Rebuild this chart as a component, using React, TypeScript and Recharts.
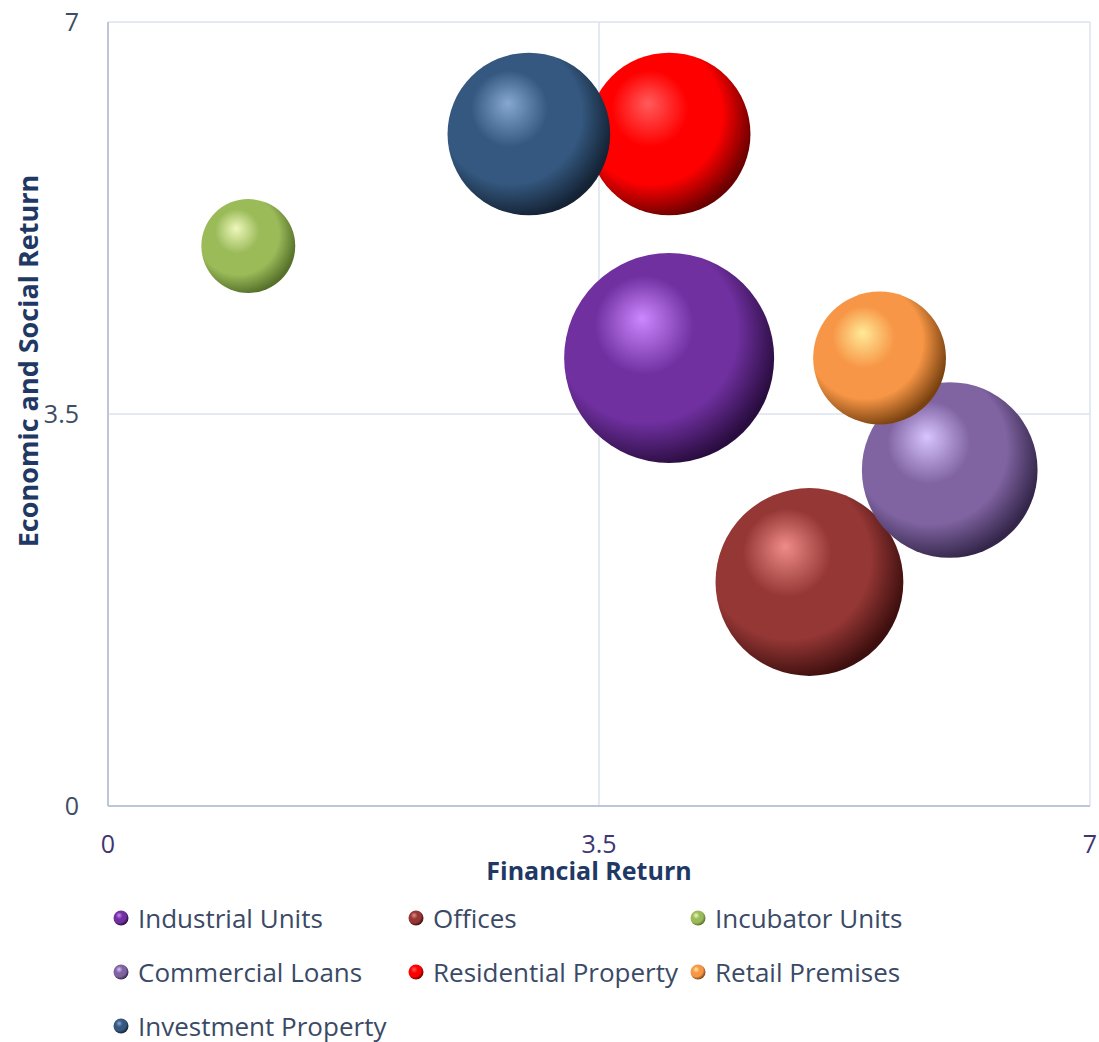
import React from 'react';
import { ScatterChart, Scatter, XAxis, YAxis, ZAxis, CartesianGrid, Legend } from 'recharts';

// series, in the order Excel draws them (later ones sit on top)
const seriesNames = [
  'Industrial Units',
  'Offices',
  'Incubator Units',
  'Commercial Loans',
  'Residential Property',
  'Retail Premises',
  'Investment Property',
];
const financialReturn = [4, 5, 1, 6, 4, 5.5, 3];
const socialReturn = [4, 2, 5, 3, 6, 4, 6];
const bubbleSize = [10, 8, 2, 7, 6, 4, 6];
const axisTicks = [0, 3.5, 7];

// sphere shading: highlight / body / dark edge
const highlightColors = ['#cc88ff', '#ee8c88', '#eef8bc', '#d8c4ff', '#ff5c5c', '#ffea98', '#86a8d2'];
const baseColors = ['#7030a0', '#953735', '#9bbb59', '#8064a2', '#ff0000', '#f79646', '#34587f'];
const shadeColors = ['#2a0d40', '#3d0f0e', '#55702a', '#34264a', '#6a0000', '#7a4210', '#142234'];

const FONT = '"Open Sans", "Noto Sans", sans-serif';

const SphereGradient = ({ id, i }: { id: string; i: number }) => (
  <radialGradient id={id} cx="40%" cy="40%" r="62%" fx="37%" fy="31%">
    <stop offset="0%" stopColor={highlightColors[i]} />
    <stop offset="38%" stopColor={baseColors[i]} />
    <stop offset="70%" stopColor={baseColors[i]} />
    <stop offset="100%" stopColor={shadeColors[i]} />
  </radialGradient>
);

const Sphere = (props: any) => {
  const { cx, cy, width, idx } = props;
  const r = width / 2;
  const id = `sphere-${idx}`;
  return (
    <g>
      <defs>
        <SphereGradient id={id} i={idx} />
      </defs>
      <circle cx={cx} cy={cy} r={r} fill={`url(#${id})`} />
    </g>
  );
};

const renderLegend = () => (
  <div
    style={{
      display: 'grid',
      gridTemplateColumns: '295px 282px 300px',
      fontFamily: FONT,
      fontSize: 26,
      lineHeight: 1,
      color: '#3a4a66',
    }}
  >
    {seriesNames.map((name, i) => (
      <div key={name} style={{ display: 'flex', alignItems: 'center', height: 54, whiteSpace: 'nowrap' }}>
        <svg width={16} height={16} style={{ marginRight: 9 }}>
          <defs>
            <SphereGradient id={`legend-${i}`} i={i} />
          </defs>
          <circle cx={8} cy={8} r={7.5} fill={`url(#legend-${i})`} />
        </svg>
        <span>{name}</span>
      </div>
    ))}
  </div>
);

const XTitle = ({ viewBox }: any) => (
  <text
    x={viewBox.x + viewBox.width / 2 - 10}
    y={viewBox.y + 74}
    textAnchor="middle"
    fontFamily={FONT}
    fontSize={25}
    fontWeight="bold"
    fill="#1f3864"
  >
    Financial Return
  </text>
);

const YTitle = ({ viewBox }: any) => {
  const x = viewBox.x + 38;
  const y = viewBox.y + viewBox.height / 2 - 53;
  return (
    <text
      x={x}
      y={y}
      transform={`rotate(-90 ${x} ${y})`}
      textAnchor="middle"
      fontFamily={FONT}
      fontSize={27}
      fontWeight="bold"
      fill="#1f3864"
    >
      Economic and Social Return
    </text>
  );
};

export default function App() {
  return (
    <div style={{ position: 'absolute', left: 0, top: 0, background: '#fff' }}>
      <ScatterChart width={1099} height={1042} margin={{ top: 22, right: 9, bottom: 176, left: 0 }}>
        <CartesianGrid stroke="#dde3ee" strokeWidth={1.5} />
        <XAxis
          type="number"
          dataKey="x"
          domain={[0, 7]}
          ticks={axisTicks}
          height={60}
          tickLine={false}
          tickSize={0}
          tickMargin={29}
          axisLine={{ stroke: '#bcc6d8', strokeWidth: 2 }}
          tick={{ fill: '#3f3572', fontSize: 25, fontFamily: FONT }}
          label={XTitle}
        />
        <YAxis
          type="number"
          dataKey="y"
          domain={[0, 7]}
          ticks={axisTicks}
          width={108}
          tickLine={false}
          tickSize={0}
          tickMargin={29}
          axisLine={{ stroke: '#bcc6d8', strokeWidth: 2 }}
          tick={{ fill: '#3d4d63', fontSize: 25, fontFamily: FONT }}
          label={YTitle}
        />
        <ZAxis type="number" dataKey="z" domain={[0, 10]} range={[0, Math.PI * 105 * 105]} />
        <Legend
          layout="horizontal"
          verticalAlign="middle"
          align="center"
          content={renderLegend}
          wrapperStyle={{ top: 891, left: 113, width: 900 }}
        />
        {seriesNames.map((name, i) => (
          <Scatter
            key={name}
            name={name}
            data={[{ x: financialReturn[i], y: socialReturn[i], z: bubbleSize[i] }]}
            fill={baseColors[i]}
            shape={(p: any) => <Sphere {...p} idx={i} />}
            isAnimationActive={false}
          />
        ))}
      </ScatterChart>
    </div>
  );
}
